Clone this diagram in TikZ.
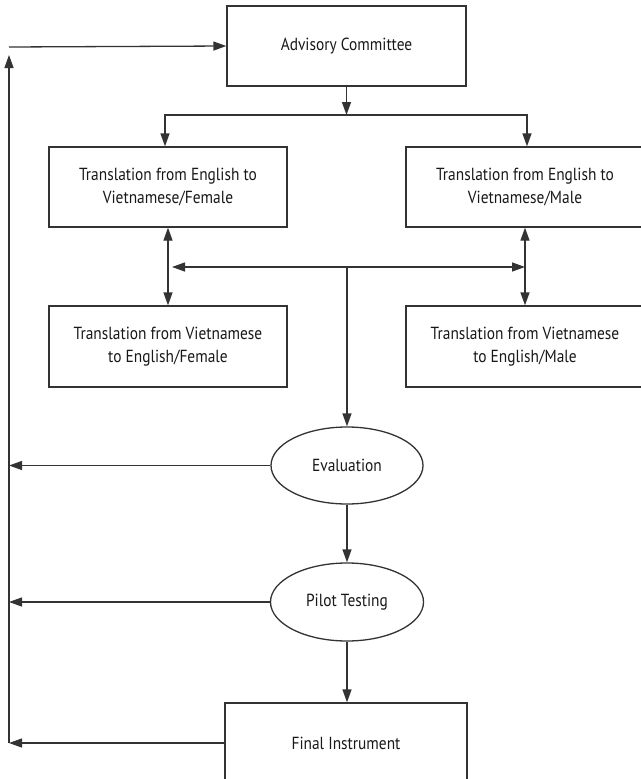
\documentclass[tikz,border=0pt]{standalone}
\usepackage{fontspec}
\setmainfont[FakeStretch=0.88]{PT Sans}
\usetikzlibrary{arrows.meta,shapes.geometric}

\definecolor{ink}{HTML}{1A1718}
\definecolor{wire}{HTML}{333333}

\tikzset{
  stepbox/.style={draw=wire, line width=1.3pt, rectangle, align=center,
    text=ink, font=\fontsize{17.5}{23}\selectfont, inner sep=0pt},
  oval/.style={draw=wire, line width=1.3pt, ellipse, align=center,
    text=ink, font=\fontsize{17.5}{23}\selectfont, inner sep=0pt},
  link/.style={draw=wire, line width=1.3pt},
  tip/.tip={Triangle[length=13pt,width=9pt]},
  arr/.style={link, -tip},
  biarr/.style={link, tip-tip},
}

\begin{document}
\begin{tikzpicture}[x=1pt,y=-1pt]
\useasboundingbox (0,0) rectangle (640,779);

% process boxes
\node[stepbox, minimum width=239pt, minimum height=80pt] (adv) at (346.5,46) {Advisory Committee};
\node[stepbox, minimum width=238pt, minimum height=80pt] (tef) at (168,187)
  {Translation from English to\\Vietnamese/Female};
\node[stepbox, minimum width=238pt, minimum height=80pt] (tem) at (525,187)
  {Translation from English to\\Vietnamese/Male};
\node[stepbox, minimum width=238pt, minimum height=81pt] (vef) at (168,346.5)
  {Translation from Vietnamese\\to English/Female};
\node[stepbox, minimum width=238pt, minimum height=81pt] (vem) at (525,346.5)
  {Translation from Vietnamese\\to English/Male};
\node[oval, minimum width=152pt, minimum height=77pt] (eval) at (347,465.5) {Evaluation};
\node[oval, minimum width=153pt, minimum height=78pt] (pilot) at (347,602) {Pilot Testing};
\node[stepbox, minimum width=242pt, minimum height=80pt] (final) at (346,743) {Final Instrument};

% junctions
\coordinate (split) at (346.5,115);
\coordinate (hub) at (347,267);
\coordinate (railtop) at (9,47);
\coordinate (railbot) at (9,743);

% committee to the two forward translations
\draw[arr] (adv.south) -- (split);
\draw[arr] (split) -| ([xshift=-3pt]tef.north);
\draw[arr] (split) -| ([xshift=2pt]tem.north);

% forward and back translations
\draw[biarr] (tef.south) -- (vef.north);
\draw[biarr] (tem.south) -- (vem.north);
\draw[biarr] ([xshift=4pt]tef.south |- hub) -- (tem.south |- hub);
\draw[arr] (hub) -- (eval.north);

% main sequence
\draw[arr] (eval.south) -- (pilot.north);
\draw[arr] (pilot.south) -- (pilot.south |- final.north);

% feedback rail back to the committee
\draw[arr] (railbot) -- ([yshift=-8pt]railtop);
\draw[arr] (railtop) -- (adv.west);
\draw[arr] (eval.west) -- (eval.west -| railtop);
\draw[arr] (pilot.west) -- (pilot.west -| railtop);
\draw[arr] (final.west) -- (railbot);
\end{tikzpicture}
\end{document}
